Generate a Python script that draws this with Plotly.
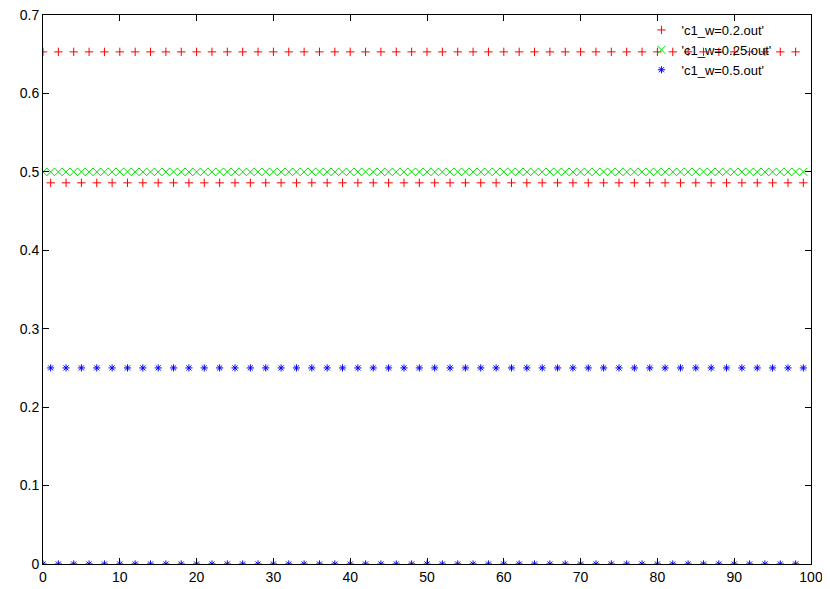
import plotly.graph_objects as go

x_vals = list(range(100))

red_y = [
    0.653, 0.486, 0.653, 0.486, 0.653, 0.486, 0.653, 0.486, 0.653, 0.486,
    0.653, 0.486, 0.653, 0.486, 0.653, 0.486, 0.653, 0.486, 0.653, 0.486,
    0.653, 0.486, 0.653, 0.486, 0.653, 0.486, 0.653, 0.486, 0.653, 0.486,
    0.653, 0.486, 0.653, 0.486, 0.653, 0.486, 0.653, 0.486, 0.653, 0.486,
    0.653, 0.486, 0.653, 0.486, 0.653, 0.486, 0.653, 0.486, 0.653, 0.486,
    0.653, 0.486, 0.653, 0.486, 0.653, 0.486, 0.653, 0.486, 0.653, 0.486,
    0.653, 0.486, 0.653, 0.486, 0.653, 0.486, 0.653, 0.486, 0.653, 0.486,
    0.653, 0.486, 0.653, 0.486, 0.653, 0.486, 0.653, 0.486, 0.653, 0.486,
    0.653, 0.486, 0.653, 0.486, 0.653, 0.486, 0.653, 0.486, 0.653, 0.486,
    0.653, 0.486, 0.653, 0.486, 0.653, 0.486, 0.653, 0.486, 0.653, 0.486,
]

green_y = [
    0.5, 0.5, 0.5, 0.5, 0.5, 0.5, 0.5, 0.5, 0.5, 0.5,
    0.5, 0.5, 0.5, 0.5, 0.5, 0.5, 0.5, 0.5, 0.5, 0.5,
    0.5, 0.5, 0.5, 0.5, 0.5, 0.5, 0.5, 0.5, 0.5, 0.5,
    0.5, 0.5, 0.5, 0.5, 0.5, 0.5, 0.5, 0.5, 0.5, 0.5,
    0.5, 0.5, 0.5, 0.5, 0.5, 0.5, 0.5, 0.5, 0.5, 0.5,
    0.5, 0.5, 0.5, 0.5, 0.5, 0.5, 0.5, 0.5, 0.5, 0.5,
    0.5, 0.5, 0.5, 0.5, 0.5, 0.5, 0.5, 0.5, 0.5, 0.5,
    0.5, 0.5, 0.5, 0.5, 0.5, 0.5, 0.5, 0.5, 0.5, 0.5,
    0.5, 0.5, 0.5, 0.5, 0.5, 0.5, 0.5, 0.5, 0.5, 0.5,
    0.5, 0.5, 0.5, 0.5, 0.5, 0.5, 0.5, 0.5, 0.5, 0.5,
]

blue_y = [
    0.0, 0.25, 0.0, 0.25, 0.0, 0.25, 0.0, 0.25, 0.0, 0.25,
    0.0, 0.25, 0.0, 0.25, 0.0, 0.25, 0.0, 0.25, 0.0, 0.25,
    0.0, 0.25, 0.0, 0.25, 0.0, 0.25, 0.0, 0.25, 0.0, 0.25,
    0.0, 0.25, 0.0, 0.25, 0.0, 0.25, 0.0, 0.25, 0.0, 0.25,
    0.0, 0.25, 0.0, 0.25, 0.0, 0.25, 0.0, 0.25, 0.0, 0.25,
    0.0, 0.25, 0.0, 0.25, 0.0, 0.25, 0.0, 0.25, 0.0, 0.25,
    0.0, 0.25, 0.0, 0.25, 0.0, 0.25, 0.0, 0.25, 0.0, 0.25,
    0.0, 0.25, 0.0, 0.25, 0.0, 0.25, 0.0, 0.25, 0.0, 0.25,
    0.0, 0.25, 0.0, 0.25, 0.0, 0.25, 0.0, 0.25, 0.0, 0.25,
    0.0, 0.25, 0.0, 0.25, 0.0, 0.25, 0.0, 0.25, 0.0, 0.25,
]

series_names = ["'c1_w=0.2.out'", "'c1_w=0.25.out'", "'c1_w=0.5.out'"]
x_ticks = [0, 10, 20, 30, 40, 50, 60, 70, 80, 90, 100]
x_labels = ["0", "10", "20", "30", "40", "50", "60", "70", "80", "90", "100"]
y_ticks = [0, 0.1, 0.2, 0.3, 0.4, 0.5, 0.6, 0.7]
y_labels = ["0", "0.1", "0.2", "0.3", "0.4", "0.5", "0.6", "0.7"]

fig = go.Figure()
fig.add_trace(go.Scatter(
    x=x_vals, y=red_y, mode="markers", name=series_names[0],
    marker=dict(symbol="cross-thin-open", size=6, color="#ff0000",
                line=dict(color="#ff0000", width=1)),
))
fig.add_trace(go.Scatter(
    x=x_vals, y=green_y, mode="markers", name=series_names[1],
    marker=dict(symbol="x-thin-open", size=8, color="#00e000",
                line=dict(color="#00e000", width=1)),
))
fig.add_trace(go.Scatter(
    x=x_vals, y=blue_y, mode="markers", name=series_names[2],
    marker=dict(symbol="asterisk-open", size=6, color="#0000ff",
                line=dict(color="#0000ff", width=1)),
))

axis_common = dict(
    showline=True, linecolor="black", linewidth=1, mirror="ticks",
    ticks="inside", ticklen=6, tickcolor="black", tickwidth=1,
    showgrid=False, zeroline=False, automargin=False,
    ticklabeloverflow="allow",
    tickfont=dict(family="Liberation Sans, Arial, sans-serif", size=14, color="black"),
)

fig.update_layout(
    width=822, height=581,
    margin=dict(l=35, r=19, t=7, b=25),
    paper_bgcolor="white", plot_bgcolor="white",
    xaxis=dict(range=[0, 100], tickvals=x_ticks, ticktext=x_labels, **axis_common),
    yaxis=dict(range=[0, 0.7], tickvals=y_ticks, ticktext=y_labels, **axis_common),
    showlegend=True,
    legend=dict(
        x=0.955, y=1.0, xanchor="right", yanchor="top",
        bgcolor="rgba(0,0,0,0)", borderwidth=0,
        font=dict(family="Liberation Sans, Arial, sans-serif", size=13, color="black"),
        tracegroupgap=0, itemsizing="trace",
    ),
)

fig.write_html("out.html")
